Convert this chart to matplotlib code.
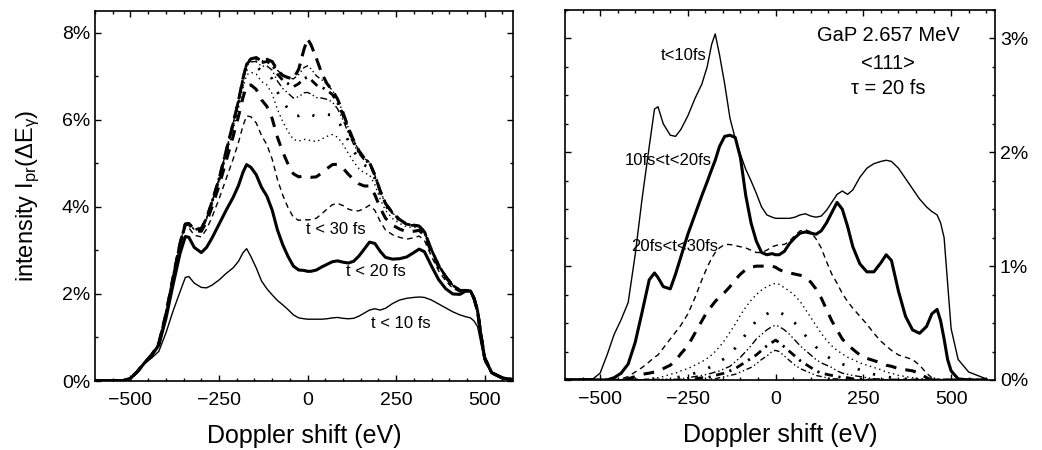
import numpy as np
import matplotlib
matplotlib.use("Agg")
import matplotlib.pyplot as plt
from matplotlib.ticker import MultipleLocator

plt.rcParams["font.family"] = ["Liberation Sans", "DejaVu Sans"]
plt.rcParams["mathtext.fontset"] = "custom"
plt.rcParams["mathtext.rm"] = "Liberation Sans"
plt.rcParams["mathtext.default"] = "regular"

# Doppler shift grid (eV) shared by all curves
shift_ev = [
    -600, -560, -520, -500, -480, -460, -440, -420, -400, -380,
    -360, -345, -335, -320, -300, -285, -270, -250, -230, -210,
    -195, -182, -172, -160, -145, -130, -115, -100, -85, -70,
    -55, -40, -25, -10, 0, 10, 25, 40, 55, 70,
    85, 100, 115, 130, 145, 160, 175, 190, 205, 220,
    240, 260, 280, 300, 315, 330, 350, 370, 390, 410,
    430, 445, 460, 470, 480, 490, 500, 520, 550, 600,
]

# contribution (%) of each time window
t_0_10 = [
    0.0, 0.01, 0.01, 0.06, 0.22, 0.40, 0.53, 0.68, 1.10, 1.60,
    2.05, 2.38, 2.40, 2.25, 2.15, 2.14, 2.20, 2.32, 2.47, 2.60,
    2.75, 2.95, 3.04, 2.86, 2.60, 2.30, 2.12, 1.98, 1.85, 1.75,
    1.64, 1.52, 1.45, 1.43, 1.42, 1.42, 1.42, 1.42, 1.43, 1.45,
    1.46, 1.44, 1.43, 1.44, 1.49, 1.56, 1.63, 1.66, 1.63, 1.67,
    1.78, 1.86, 1.90, 1.92, 1.93, 1.92, 1.86, 1.77, 1.68, 1.59,
    1.52, 1.48, 1.45, 1.38, 1.25, 0.85, 0.45, 0.18, 0.07, 0.01,
]
t_10_20 = [
    0, 0, 0, 0, 0, 0.02, 0.06, 0.14, 0.33, 0.60,
    0.88, 0.94, 0.90, 0.82, 0.80, 0.93, 1.08, 1.28, 1.45, 1.62,
    1.74, 1.85, 1.93, 2.05, 2.14, 2.15, 2.13, 1.95, 1.62, 1.38,
    1.22, 1.12, 1.10, 1.11, 1.10, 1.10, 1.13, 1.20, 1.25, 1.29,
    1.30, 1.29, 1.28, 1.31, 1.38, 1.47, 1.56, 1.50, 1.35, 1.17,
    1.02, 0.95, 0.95, 1.03, 1.10, 1.05, 0.78, 0.56, 0.44, 0.41,
    0.47, 0.58, 0.62, 0.52, 0.36, 0.18, 0.08, 0.01, 0, 0,
]
t_20_30 = [
    0, 0, 0, 0, 0, 0, 0.01, 0.03, 0.07, 0.11,
    0.16, 0.20, 0.22, 0.28, 0.36, 0.42, 0.48, 0.58, 0.72, 0.88,
    0.99, 1.07, 1.12, 1.16, 1.19, 1.19, 1.18, 1.17, 1.16, 1.14,
    1.12, 1.12, 1.14, 1.17, 1.18, 1.19, 1.19, 1.22, 1.27, 1.31,
    1.32, 1.30, 1.24, 1.16, 1.04, 0.93, 0.85, 0.76, 0.69, 0.63,
    0.56, 0.49, 0.41, 0.34, 0.30, 0.26, 0.22, 0.20, 0.18, 0.13,
    0.06, 0.02, 0, 0, 0, 0, 0, 0, 0, 0,
]
t_30_40 = [
    0, 0, 0, 0, 0, 0, 0, 0.01, 0.03, 0.05,
    0.06, 0.07, 0.08, 0.10, 0.13, 0.17, 0.23, 0.30, 0.41, 0.52,
    0.60, 0.65, 0.69, 0.73, 0.77, 0.82, 0.88, 0.93, 0.97, 0.99,
    1.00, 1.00, 1.00, 1.00, 0.99, 0.97, 0.95, 0.94, 0.93, 0.92,
    0.90, 0.86, 0.80, 0.72, 0.62, 0.52, 0.44, 0.36, 0.31, 0.27,
    0.22, 0.19, 0.17, 0.15, 0.13, 0.12, 0.10, 0.09, 0.08, 0.06,
    0.02, 0, 0, 0, 0, 0, 0, 0, 0, 0,
]
t_40_50 = [
    0, 0, 0, 0, 0, 0, 0, 0, 0, 0,
    0.01, 0.02, 0.02, 0.03, 0.05, 0.06, 0.08, 0.10, 0.13, 0.16,
    0.19, 0.22, 0.25, 0.29, 0.35, 0.42, 0.49, 0.57, 0.64, 0.70,
    0.75, 0.79, 0.82, 0.84, 0.85, 0.84, 0.81, 0.78, 0.74, 0.69,
    0.62, 0.55, 0.48, 0.41, 0.35, 0.30, 0.26, 0.23, 0.20, 0.18,
    0.15, 0.13, 0.11, 0.09, 0.07, 0.06, 0.04, 0.03, 0.02, 0.01,
    0.01, 0, 0, 0, 0, 0, 0, 0, 0, 0,
]
t_50_60 = [
    0, 0, 0, 0, 0, 0, 0, 0, 0, 0,
    0, 0, 0, 0, 0.01, 0.02, 0.03, 0.04, 0.06, 0.08,
    0.10, 0.12, 0.14, 0.16, 0.19, 0.23, 0.28, 0.34, 0.40, 0.46,
    0.52, 0.55, 0.58, 0.60, 0.61, 0.60, 0.57, 0.54, 0.50, 0.45,
    0.39, 0.34, 0.29, 0.25, 0.21, 0.18, 0.16, 0.14, 0.12, 0.11,
    0.09, 0.07, 0.05, 0.04, 0.03, 0.02, 0.01, 0.01, 0, 0,
    0, 0, 0, 0, 0, 0, 0, 0, 0, 0,
]
t_60_70 = [
    0, 0, 0, 0, 0, 0, 0, 0, 0, 0,
    0, 0, 0, 0, 0, 0, 0.01, 0.02, 0.03, 0.04,
    0.05, 0.06, 0.07, 0.08, 0.10, 0.12, 0.16, 0.20, 0.25, 0.30,
    0.36, 0.40, 0.44, 0.47, 0.48, 0.47, 0.44, 0.40, 0.35, 0.30,
    0.26, 0.22, 0.18, 0.15, 0.13, 0.11, 0.08, 0.06, 0.05, 0.04,
    0.03, 0.02, 0.01, 0.01, 0, 0, 0, 0, 0, 0,
    0, 0, 0, 0, 0, 0, 0, 0, 0, 0,
]
t_70_80 = [
    0, 0, 0, 0, 0, 0, 0, 0, 0, 0,
    0, 0, 0, 0, 0, 0, 0, 0, 0.01, 0.02,
    0.02, 0.03, 0.04, 0.05, 0.06, 0.08, 0.10, 0.13, 0.16, 0.19,
    0.22, 0.26, 0.30, 0.33, 0.35, 0.33, 0.29, 0.25, 0.21, 0.17,
    0.14, 0.11, 0.08, 0.06, 0.05, 0.04, 0.03, 0.02, 0.02, 0.01,
    0.01, 0, 0, 0, 0, 0, 0, 0, 0, 0,
    0, 0, 0, 0, 0, 0, 0, 0, 0, 0,
]
t_80_90 = [
    0, 0, 0, 0, 0, 0, 0, 0, 0, 0,
    0, 0, 0, 0, 0, 0, 0, 0, 0, 0,
    0, 0.01, 0.01, 0.02, 0.03, 0.04, 0.05, 0.07, 0.09, 0.11,
    0.14, 0.18, 0.21, 0.25, 0.26, 0.25, 0.21, 0.17, 0.13, 0.10,
    0.08, 0.06, 0.04, 0.03, 0.02, 0.01, 0.01, 0, 0, 0,
    0, 0, 0, 0, 0, 0, 0, 0, 0, 0,
    0, 0, 0, 0, 0, 0, 0, 0, 0, 0,
]
# everything slower than 90 fs (only shows up in the total, left panel)
t_above_90 = [
    0, 0, 0, 0, 0, 0, 0, 0, 0, 0,
    0, 0, 0, 0, 0, 0, 0, 0, 0, 0,
    0, 0, 0, 0, 0, 0, 0, 0, 0, 0,
    0, 0, 0.12, 0.42, 0.62, 0.55, 0.40, 0.15, 0.02, 0,
    0, 0, 0, 0, 0, 0, 0, 0, 0, 0,
    0, 0, 0, 0, 0, 0, 0, 0, 0, 0,
    0, 0, 0, 0, 0, 0, 0, 0, 0, 0,
]

windows = [t_0_10, t_10_20, t_20_30, t_30_40, t_40_50,
           t_50_60, t_60_70, t_70_80, t_80_90]

# line styles per time window (width, dash pattern)
styles = [
    (1.0, "-"),
    (2.2, "-"),
    (1.0, (0, (4, 3))),
    (2.2, (0, (3.5, 3))),
    (1.0, (0, (1, 2.5))),
    (2.0, (0, (0.8, 5))),
    (1.0, (0, (5, 2, 1, 2, 1, 2))),
    (2.0, (0, (3, 2, 0.8, 2))),
    (1.0, (0, (4, 2, 1, 2, 1, 2))),
]
total_style = (2.2, (0, (4, 2.5)))

x = np.array(shift_ev)
diff = np.array(windows)
cumul = np.cumsum(diff, axis=0)
total = cumul[-1] + np.array(t_above_90)

fig = plt.figure(figsize=(10.42, 4.5), dpi=100)
ax1 = fig.add_axes([0.0912, 0.1533, 0.4011, 0.8223])
ax2 = fig.add_axes([0.5422, 0.1556, 0.4127, 0.8222])

# left panel: cumulative intensity
ax1.plot(x, total, color="black", lw=total_style[0], ls=total_style[1])
for k in range(len(windows) - 1, -1, -1):
    lw, ls = styles[k]
    ax1.plot(x, cumul[k], color="black", lw=lw, ls=ls)

ax1.set_xlim(-600, 580)
ax1.set_ylim(0, 8.5)
ax1.set_yticks([0, 2, 4, 6, 8])
ax1.set_yticklabels(["0%", "2%", "4%", "6%", "8%"])
ax1.yaxis.set_minor_locator(MultipleLocator(1))
ax1.set_ylabel("intensity I$_{pr}$(ΔE$_{γ}$)", fontsize=17, labelpad=14)

ax1.text(80, 3.47, "t < 30 fs", fontsize=12, ha="center", va="center")
ax1.text(193, 2.51, "t < 20 fs", fontsize=12, ha="center", va="center")
ax1.text(264, 1.32, "t < 10 fs", fontsize=12, ha="center", va="center")

# right panel: each time window separately
for k in range(len(windows) - 1, -1, -1):
    lw, ls = styles[k]
    ax2.plot(x, diff[k], color="black", lw=lw, ls=ls)

ax2.set_xlim(-600, 625)
ax2.set_ylim(0, 3.25)
ax2.set_yticks([0, 1, 2, 3])
ax2.set_yticklabels(["0%", "1%", "2%", "3%"])
ax2.yaxis.set_minor_locator(MultipleLocator(0.25))
ax2.yaxis.tick_right()

ax2.text(-263, 2.85, "t<10fs", fontsize=12, ha="center", va="center")
ax2.text(-307, 1.93, "10fs<t<20fs", fontsize=12, ha="center", va="center")
ax2.text(-288, 1.17, "20fs<t<30fs", fontsize=12, ha="center", va="center")
ax2.text(321, 3.03, "GaP 2.657 MeV", fontsize=14.5, ha="center", va="center")
ax2.text(321, 2.78, "<111>", fontsize=14.5, ha="center", va="center")
ax2.text(321, 2.56, "τ = 20 fs", fontsize=14.5, ha="center", va="center")

for ax in (ax1, ax2):
    ax.set_xticks([-500, -250, 0, 250, 500])
    ax.xaxis.set_minor_locator(MultipleLocator(50))
    ax.set_xlabel("Doppler shift (eV)", fontsize=18, labelpad=11)
    ax.tick_params(which="both", direction="in", top=True, bottom=True,
                   left=True, right=True, labelsize=14, width=1.0)
    ax.tick_params(which="major", length=4)
    ax.tick_params(which="minor", length=2.5)
    ax.tick_params(axis="x", pad=8)
    for s in ax.spines.values():
        s.set_linewidth(1.2)
ax2.tick_params(which="both", labelleft=False, labelright=True)

fig.savefig("out.png", dpi=100)
